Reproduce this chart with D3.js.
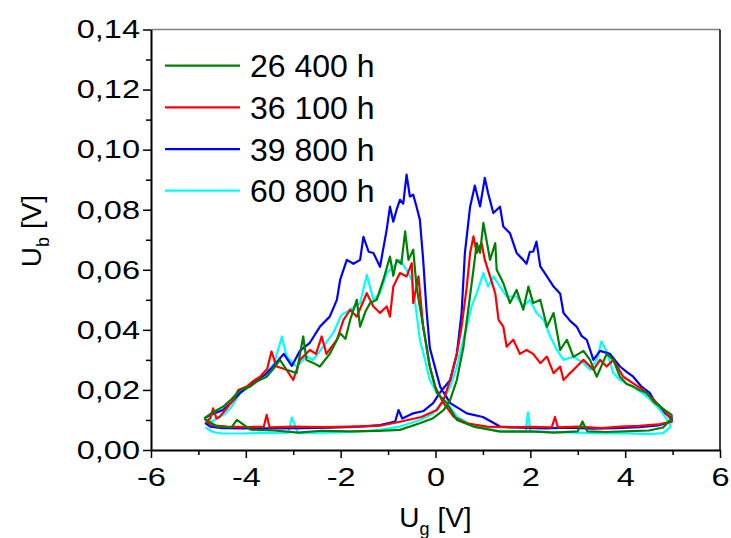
<!DOCTYPE html>
<html>
<head>
<meta charset="utf-8">
<script src="https://cdn.jsdelivr.net/npm/d3@7"></script>
<style>
  body { margin: 0; background: #fff; }
  text { font-family: "Liberation Sans", Arial, sans-serif; fill: #000; }
</style>
</head>
<body>
<script>
// U_g [V], U_b [V] pairs; "up" = sweep -5 -> 5, "down" = sweep 5 -> -5
var green26400Up = [[-4.88,0.0105],[-4.7,0.0125],[-4.48,0.0144],[-4.3,0.017],[-4.12,0.020],[-3.91,0.0211],[-3.75,0.023],[-3.56,0.0244],[-3.42,0.027],[-3.28,0.030],[-3.14,0.0267],[-2.93,0.0256],[-2.79,0.0378],[-2.72,0.030],[-2.58,0.029],[-2.44,0.0278],[-2.23,0.032],[-2.01,0.0389],[-1.9,0.037],[-1.80,0.0433],[-1.66,0.050],[-1.59,0.0411],[-1.48,0.046],[-1.38,0.0489],[-1.24,0.050],[-1.10,0.0567],[-0.96,0.0644],[-0.89,0.058],[-0.82,0.0633],[-0.72,0.062],[-0.64,0.0728],[-0.57,0.0633],[-0.47,0.0667],[-0.40,0.0544],[-0.26,0.0411],[-0.12,0.0278],[0.03,0.019],[0.24,0.0156],[0.45,0.010],[0.8,0.0078],[1.36,0.0061],[2.0,0.0062],[2.5,0.0058],[3.0,0.0062],[3.1,0.0095],[3.2,0.0062],[3.6,0.006],[4.0,0.0062],[4.5,0.0065],[4.8,0.0075],[4.98,0.0105]];
var green26400Down = [[4.98,0.0117],[4.86,0.013],[4.74,0.0144],[4.6,0.016],[4.46,0.019],[4.3,0.020],[4.17,0.0211],[4.03,0.022],[3.89,0.0244],[3.75,0.030],[3.61,0.032],[3.5,0.028],[3.40,0.0244],[3.26,0.030],[3.12,0.033],[2.91,0.031],[2.77,0.0367],[2.63,0.0333],[2.49,0.0456],[2.35,0.041],[2.21,0.050],[2.06,0.0489],[1.96,0.0544],[1.85,0.0467],[1.71,0.0533],[1.57,0.0489],[1.43,0.0556],[1.29,0.060],[1.26,0.0689],[1.15,0.0633],[1.01,0.0756],[0.94,0.0656],[0.87,0.0689],[0.80,0.060],[0.69,0.0467],[0.59,0.0344],[0.45,0.0233],[0.31,0.0167],[0.17,0.0133],[-0.05,0.0106],[-0.33,0.0089],[-0.75,0.0067],[-1.2,0.0064],[-1.8,0.0062],[-2.4,0.0064],[-2.9,0.0058],[-3.4,0.0065],[-3.9,0.0068],[-4.19,0.010],[-4.3,0.0075],[-4.6,0.0078],[-4.88,0.0105]];

var red36100Up = [[-4.85,0.0095],[-4.75,0.0105],[-4.69,0.0139],[-4.62,0.0105],[-4.55,0.0111],[-4.4,0.014],[-4.26,0.0167],[-4.16,0.020],[-3.98,0.0211],[-3.84,0.023],[-3.70,0.0244],[-3.55,0.027],[-3.46,0.0328],[-3.35,0.0278],[-3.14,0.0267],[-3.0,0.0233],[-2.86,0.030],[-2.65,0.0333],[-2.52,0.032],[-2.40,0.0378],[-2.30,0.032],[-2.08,0.0367],[-1.94,0.0433],[-1.80,0.0467],[-1.66,0.0444],[-1.45,0.0522],[-1.31,0.0478],[-1.17,0.0456],[-1.03,0.0478],[-0.96,0.0444],[-0.89,0.0544],[-0.75,0.0589],[-0.61,0.0578],[-0.50,0.0622],[-0.47,0.0489],[-0.36,0.0578],[-0.26,0.0411],[-0.12,0.0278],[-0.01,0.0211],[0.17,0.0156],[0.38,0.0111],[0.66,0.0089],[1.08,0.0078],[1.6,0.0075],[2.0,0.0077],[2.45,0.0075],[2.52,0.011],[2.58,0.0075],[3.0,0.0078],[3.5,0.0073],[3.9,0.0078],[4.3,0.008],[4.7,0.0085],[4.98,0.0095]];
var red36100Down = [[4.98,0.010],[4.81,0.0133],[4.60,0.0167],[4.38,0.020],[4.17,0.0222],[3.96,0.0244],[3.75,0.030],[3.61,0.0278],[3.47,0.030],[3.33,0.0267],[3.12,0.030],[2.98,0.0278],[2.84,0.0256],[2.70,0.0233],[2.63,0.0278],[2.49,0.0256],[2.35,0.0311],[2.21,0.0289],[2.06,0.032],[1.92,0.0333],[1.78,0.032],[1.64,0.0367],[1.50,0.0344],[1.43,0.0411],[1.33,0.0433],[1.26,0.0522],[1.15,0.0578],[1.04,0.0633],[0.97,0.0689],[0.87,0.0656],[0.80,0.0711],[0.73,0.0656],[0.66,0.0544],[0.55,0.041],[0.45,0.032],[0.31,0.0233],[0.17,0.0167],[0.03,0.0133],[-0.3,0.011],[-0.75,0.0094],[-1.2,0.008],[-1.8,0.0078],[-2.4,0.0076],[-3.0,0.0078],[-3.5,0.0075],[-3.56,0.0117],[-3.62,0.0078],[-4.0,0.0076],[-4.4,0.0078],[-4.7,0.0082],[-4.85,0.0095]];

var blue39800Up = [[-4.86,0.0107],[-4.7,0.012],[-4.48,0.0133],[-4.3,0.016],[-4.12,0.019],[-3.95,0.021],[-3.77,0.0233],[-3.6,0.025],[-3.43,0.0277],[-3.2,0.032],[-3.03,0.028],[-2.86,0.033],[-2.65,0.0357],[-2.44,0.041],[-2.23,0.0444],[-2.08,0.050],[-2.01,0.0567],[-1.87,0.0633],[-1.73,0.062],[-1.59,0.0633],[-1.52,0.071],[-1.41,0.066],[-1.31,0.0656],[-1.17,0.061],[-1.03,0.0733],[-0.96,0.081],[-0.89,0.076],[-0.82,0.080],[-0.75,0.0833],[-0.68,0.082],[-0.61,0.0917],[-0.54,0.0844],[-0.47,0.085],[-0.40,0.081],[-0.33,0.0767],[-0.26,0.0633],[-0.19,0.0467],[-0.12,0.034],[0.1,0.021],[0.31,0.0156],[0.66,0.0122],[1.0,0.011],[1.36,0.0078],[1.8,0.0074],[2.3,0.0072],[2.8,0.0074],[3.3,0.0071],[3.8,0.0073],[4.3,0.0076],[4.7,0.0082],[4.98,0.0095]];
var blue39800Down = [[4.98,0.0107],[4.86,0.012],[4.74,0.0144],[4.63,0.016],[4.52,0.019],[4.35,0.021],[4.17,0.0244],[4.03,0.026],[3.89,0.0278],[3.68,0.032],[3.47,0.033],[3.33,0.030],[3.19,0.0367],[3.08,0.038],[2.98,0.041],[2.84,0.043],[2.70,0.0456],[2.63,0.052],[2.49,0.0544],[2.35,0.0578],[2.21,0.0611],[2.13,0.0694],[2.06,0.066],[1.99,0.066],[1.92,0.062],[1.85,0.0633],[1.71,0.0656],[1.57,0.0722],[1.43,0.0744],[1.36,0.081],[1.22,0.0789],[1.11,0.0855],[1.04,0.0906],[0.94,0.0811],[0.83,0.088],[0.73,0.081],[0.62,0.0656],[0.55,0.0456],[0.45,0.032],[0.31,0.0233],[0.09,0.019],[-0.05,0.0156],[-0.25,0.013],[-0.47,0.0122],[-0.7,0.0105],[-0.78,0.0133],[-0.85,0.0095],[-1.17,0.0083],[-1.6,0.0078],[-2.2,0.0074],[-2.8,0.0073],[-3.4,0.0072],[-4.0,0.0072],[-4.5,0.0073],[-4.75,0.0078],[-4.86,0.009]];

var cyan60800Up = [[-4.85,0.0085],[-4.6,0.0105],[-4.45,0.012],[-4.3,0.0144],[-4.12,0.019],[-3.84,0.0222],[-3.56,0.0256],[-3.4,0.029],[-3.24,0.0378],[-3.14,0.0311],[-2.93,0.0278],[-2.72,0.0311],[-2.58,0.030],[-2.37,0.0344],[-2.16,0.0389],[-1.98,0.045],[-1.80,0.0467],[-1.59,0.0489],[-1.45,0.0583],[-1.31,0.050],[-1.17,0.0522],[-1.03,0.0589],[-0.89,0.0611],[-0.75,0.0633],[-0.61,0.060],[-0.50,0.0567],[-0.40,0.0456],[-0.33,0.0367],[-0.22,0.030],[-0.12,0.0233],[0.03,0.019],[0.24,0.0156],[0.45,0.0111],[0.8,0.008],[1.3,0.0065],[1.9,0.0062],[1.95,0.0125],[2.0,0.0062],[2.5,0.006],[3.0,0.0058],[3.5,0.0055],[4.0,0.0055],[4.5,0.0053],[4.8,0.0056],[4.95,0.0075]];
var cyan60800Down = [[4.94,0.0089],[4.74,0.0133],[4.46,0.0178],[4.17,0.0211],[3.89,0.0233],[3.75,0.0256],[3.61,0.0328],[3.50,0.0361],[3.40,0.030],[3.26,0.0267],[3.12,0.0289],[2.91,0.0311],[2.70,0.030],[2.56,0.0333],[2.42,0.0378],[2.28,0.0433],[2.13,0.0456],[1.99,0.050],[1.85,0.0478],[1.71,0.0511],[1.5,0.0511],[1.36,0.0544],[1.22,0.0578],[1.11,0.0544],[1.01,0.0589],[0.94,0.0556],[0.87,0.0522],[0.76,0.0478],[0.66,0.0411],[0.55,0.0344],[0.45,0.0278],[0.31,0.0211],[0.17,0.0167],[-0.05,0.0122],[-0.33,0.010],[-0.75,0.0078],[-1.17,0.0067],[-1.7,0.006],[-2.3,0.0058],[-2.9,0.0056],[-3.03,0.0108],[-3.1,0.0058],[-3.6,0.0057],[-4.1,0.0055],[-4.5,0.0055],[-4.7,0.006],[-4.85,0.0075]];

var seriesNames = ["26 400 h", "36 100 h", "39 800 h", "60 800 h"];
var seriesColors = ["#008000", "#ff0000", "#0000ff", "#00ffff"];
var seriesData = [
  green26400Up.concat(green26400Down),
  red36100Up.concat(red36100Down),
  blue39800Up.concat(blue39800Down),
  cyan60800Up.concat(cyan60800Down)
];
var xMajor = [-6, -4, -2, 0, 2, 4, 6];
var xMinor = [-5, -3, -1, 1, 3, 5];
var yMajor = [0, 0.02, 0.04, 0.06, 0.08, 0.10, 0.12, 0.14];
var yMinor = [0.01, 0.03, 0.05, 0.07, 0.09, 0.11, 0.13];

var width = 731, height = 538;

var svg = d3.select("body").append("svg")
  .attr("width", width)
  .attr("height", height);

var x = d3.scaleLinear().domain([-6, 6]).range([151, 720]);
var y = d3.scaleLinear().domain([0, 0.14]).range([450, 29.5]);

// curves, cyan first so green ends up on top
var line = d3.line().x(function(d) { return x(d[0]); }).y(function(d) { return y(d[1]); });
var order = [3, 2, 1, 0];
order.forEach(function(i) {
  svg.append("path")
    .attr("d", line(seriesData[i]))
    .attr("fill", "none")
    .attr("stroke", seriesColors[i])
    .attr("stroke-width", 2.2)
    .attr("stroke-linejoin", "round");
});

// frame
svg.append("line")
  .attr("x1", x(-6)).attr("x2", x(6)).attr("y1", y(0.14)).attr("y2", y(0.14))
  .attr("stroke", "#808080").attr("stroke-width", 1.5);
svg.append("line")
  .attr("x1", x(6)).attr("x2", x(6)).attr("y1", y(0.14)).attr("y2", y(0))
  .attr("stroke", "#000").attr("stroke-width", 1.5);

var fmtY = function(v) { return d3.format(".2f")(v).replace(".", ","); };
var fmtX = function(v) { return String(v); };

// tick labels in the original are drawn wider than plain Arial
function widen(sel) {
  sel.each(function() {
    var w = this.getComputedTextLength();
    d3.select(this).attr("textLength", w * 1.25).attr("lengthAdjust", "spacingAndGlyphs");
  });
}

// x axis
svg.append("g")
  .attr("transform", "translate(0," + y(0) + ")")
  .call(d3.axisBottom(x).tickValues(xMinor).tickSize(5).tickFormat(""))
  .call(function(g) { g.select(".domain").remove(); });
var gx = svg.append("g")
  .attr("transform", "translate(0," + y(0) + ")")
  .call(d3.axisBottom(x).tickValues(xMajor).tickSize(8).tickSizeOuter(0).tickPadding(10).tickFormat(fmtX));
gx.selectAll("text").attr("font-size", 26).attr("font-family", null).style("fill", "#000").call(widen);

// y axis
svg.append("g")
  .attr("transform", "translate(" + x(-6) + ",0)")
  .call(d3.axisLeft(y).tickValues(yMinor).tickSize(5).tickFormat(""))
  .call(function(g) { g.select(".domain").remove(); });
var gy = svg.append("g")
  .attr("transform", "translate(" + x(-6) + ",0)")
  .call(d3.axisLeft(y).tickValues(yMajor).tickSize(8).tickSizeOuter(0).tickPadding(3).tickFormat(fmtY));
gy.selectAll("text").attr("font-size", 26).attr("font-family", null).style("fill", "#000").call(widen);

svg.selectAll(".domain").attr("stroke-width", 2);
svg.selectAll(".tick line").attr("stroke-width", 1.5);

// axis titles
var xt = svg.append("text")
  .attr("x", x(0))
  .attr("y", 527)
  .attr("text-anchor", "middle")
  .attr("font-size", 28);
xt.append("tspan").text("U");
xt.append("tspan").attr("font-size", 18).attr("dy", 8).text("g");
xt.append("tspan").attr("dy", -8).text(" [V]");

var yt = svg.append("text")
  .attr("transform", "translate(41," + 231 + ") rotate(-90)")
  .attr("text-anchor", "middle")
  .attr("font-size", 28);
yt.append("tspan").text("U");
yt.append("tspan").attr("font-size", 18).attr("dy", 8).text("b");
yt.append("tspan").attr("dy", -8).text(" [V]");

// legend
var legendY = d3.scaleLinear().domain([0, 3]).range([65.7, 190.7]);
var legend = svg.append("g");
seriesNames.forEach(function(name, i) {
  legend.append("line")
    .attr("x1", 165).attr("x2", 240)
    .attr("y1", legendY(i)).attr("y2", legendY(i))
    .attr("stroke", seriesColors[i]).attr("stroke-width", 2.2);
  legend.append("text")
    .attr("x", 250)
    .attr("y", legendY(i))
    .attr("dy", "0.36em")
    .attr("font-size", 32)
    .text(name);
});
</script>
</body>
</html>
